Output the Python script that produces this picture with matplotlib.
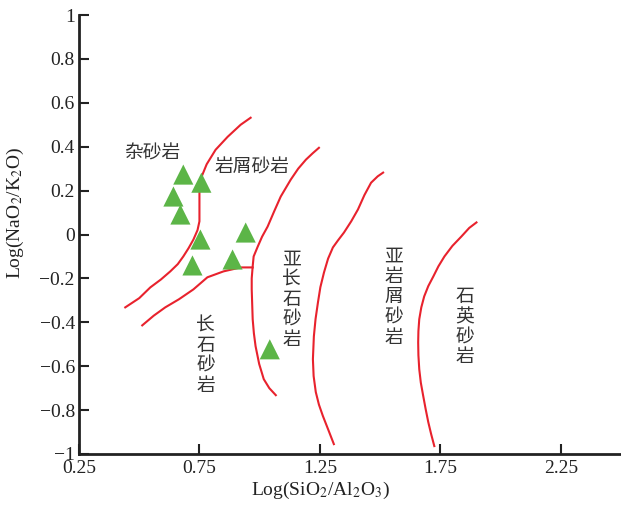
import matplotlib
matplotlib.use("Agg")
import matplotlib.pyplot as plt
from matplotlib.ticker import FuncFormatter

plt.rcParams['font.family'] = ['Liberation Serif', 'DejaVu Serif']
plt.rcParams['mathtext.fontset'] = 'stix'

# boundary curves (Log(SiO2/Al2O3), Log(Na2O/K2O))
c1_x = [0.442, 0.50, 0.546, 0.59, 0.629, 0.66, 0.683, 0.705, 0.725, 0.742, 0.75, 0.75, 0.751, 0.754,
        0.78, 0.817, 0.867, 0.921, 0.9625]
c1_y = [-0.332, -0.29, -0.241, -0.205, -0.168, -0.135, -0.10, -0.062, -0.023, 0.02, 0.06, 0.191, 0.23, 0.25,
        0.32, 0.386, 0.445, 0.50, 0.532]

c2_x = [0.5125, 0.56, 0.608, 0.665, 0.725, 0.783, 0.85, 0.921, 0.971]
c2_y = [-0.414, -0.37, -0.332, -0.295, -0.25, -0.195, -0.168, -0.15, -0.15]

c3_x = [1.246, 1.22, 1.192, 1.16, 1.129, 1.0875, 1.06, 1.033, 1.01, 0.992, 0.975, 0.971, 0.967, 0.967,
        0.971, 0.976, 0.983, 0.998, 1.017, 1.04, 1.067]
c3_y = [0.395, 0.37, 0.341, 0.30, 0.25, 0.173, 0.105, 0.036, -0.01, -0.055, -0.10, -0.145, -0.20, -0.25,
        -0.386, -0.45, -0.509, -0.59, -0.659, -0.70, -0.732]

c4_x = [1.5125, 1.49, 1.4625, 1.435, 1.408, 1.38, 1.35, 1.325, 1.304, 1.284, 1.267, 1.252, 1.242, 1.232,
        1.225, 1.221, 1.224, 1.233, 1.246, 1.2625, 1.285, 1.308]
c4_y = [0.282, 0.265, 0.236, 0.18, 0.114, 0.06, 0.009, -0.027, -0.059, -0.11, -0.173, -0.24, -0.309, -0.385,
        -0.464, -0.568, -0.645, -0.718, -0.775, -0.827, -0.89, -0.955]

c5_x = [1.90, 1.87, 1.8375, 1.80, 1.767, 1.742, 1.721, 1.70, 1.683, 1.671, 1.6625, 1.659, 1.658, 1.659,
        1.6625, 1.669, 1.679, 1.689, 1.70, 1.712, 1.725]
c5_y = [0.055, 0.03, -0.009, -0.052, -0.10, -0.145, -0.191, -0.235, -0.282, -0.332, -0.386, -0.44, -0.491,
        -0.55, -0.614, -0.675, -0.736, -0.795, -0.855, -0.91, -0.964]

# samples
sx = [0.683, 0.758, 0.642, 0.671, 0.754, 0.721, 0.942, 0.8875, 1.042]
sy = [0.273, 0.236, 0.173, 0.091, -0.023, -0.141, 0.009, -0.114, -0.523]

# field labels
labels = ['杂砂岩', '岩屑砂岩', '长石砂岩', '亚长石砂岩', '亚岩屑砂岩', '石英砂岩']
lab_x = [0.554, 0.967, 0.775, 1.133, 1.556, 1.85]
lab_y = [0.373, 0.305, -0.55, -0.295, -0.284, -0.42]
vertical = [False, False, True, True, True, True]

xticks = [0.25, 0.75, 1.25, 1.75, 2.25]
yticks = [-1, -0.8, -0.6, -0.4, -0.2, 0, 0.2, 0.4, 0.6, 0.8, 1]

fig = plt.figure(figsize=(6.21, 5.05), dpi=100)
ax = fig.add_axes([79 / 621, 51 / 505, 542 / 621, 439 / 505])

red = '#e8222d'
for cx, cy in [(c1_x, c1_y), (c2_x, c2_y), (c3_x, c3_y), (c4_x, c4_y), (c5_x, c5_y)]:
    ax.plot(cx, cy, color=red, lw=1.5, zorder=2, solid_joinstyle='round')

ax.scatter(sx, sy, marker='^', s=210, color='#5cb547', edgecolors='none', zorder=3)

cjk = ['Noto Sans CJK SC', 'DejaVu Sans']
for t, x, y, v in zip(labels, lab_x, lab_y, vertical):
    s = '\n'.join(t) if v else t
    ax.text(x, y, s, ha='center', va='center', fontsize=13.5, family=cjk,
            color='#333333', linespacing=0.95)

ax.set_xlim(0.25, 2.5)
ax.set_ylim(-1, 1)
ax.set_xticks(xticks)
ax.set_yticks(yticks)
ax.xaxis.set_major_formatter(FuncFormatter(lambda v, p: f'{v:.2f}'))
ax.yaxis.set_major_formatter(FuncFormatter(lambda v, p: f'{v:g}'.replace('-', '\u2212')))
ax.tick_params(direction='in', length=7, width=1.5, labelsize=14, colors='#222222')
ax.tick_params(axis='y', pad=3)
ax.tick_params(axis='x', pad=4)

for side in ['top', 'right']:
    ax.spines[side].set_visible(False)
for side in ['left', 'bottom']:
    ax.spines[side].set_linewidth(2)
    ax.spines[side].set_color('#222222')

ax.set_xlabel('Log(SiO$_2$/Al$_2$O$_3$)', fontsize=14, color='#222222')
ax.set_ylabel('Log(NaO$_2$/K$_2$O)', fontsize=14, color='#222222')
ax.xaxis.set_label_coords(0.446, -0.058)
ax.yaxis.set_label_coords(-0.098, 0.55)

fig.savefig('out.png', dpi=100)
